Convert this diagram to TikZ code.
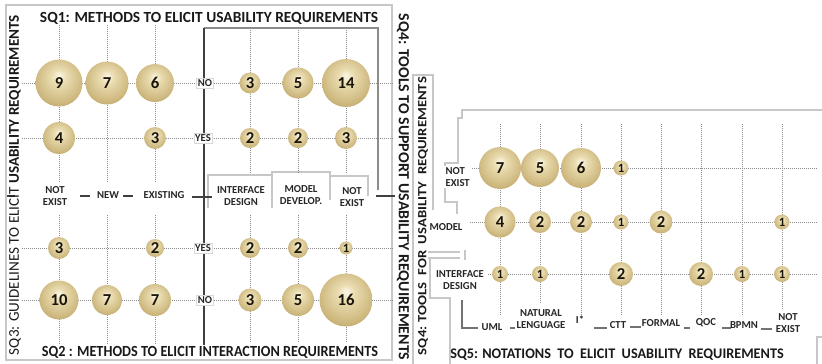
\documentclass[tikz,border=0pt]{standalone}
\usepackage{fontspec}
\setmainfont{Carlito}
\definecolor{cream}{RGB}{252,248,232}
\definecolor{goldA}{RGB}{234,220,176}
\definecolor{goldB}{RGB}{204,182,124}
\definecolor{goldC}{RGB}{150,124,66}
\definecolor{goldD}{RGB}{96,78,38}
\definecolor{numtxt}{RGB}{25,20,8}
\pgfdeclareradialshading{goldball}{\pgfqpoint{0bp}{8bp}}{color(0bp)=(cream); color(8bp)=(goldA); color(26bp)=(goldB); color(42bp)=(goldC); color(52bp)=(goldD)}
\newcommand\ball[5]{\node[bub, minimum size={1.5pt*#4}] (#1) at (#2,#3) {#5};}
\newcommand\sball[5]{\node[bub, minimum size={1.5pt*#4}, font=\bfseries\fontsize{9.5}{10}\selectfont] (#1) at (#2,#3) {#5};}
\newcommand\fitw[3]{\resizebox{#1}{\height}{\fontsize{#2}{#2}\selectfont #3}}
\begin{document}
\begin{tikzpicture}[x=0.75pt,y=-0.75pt,
  bub/.style={circle, shading=goldball, inner sep=0pt, text=numtxt, font=\bfseries\fontsize{12.5}{12.5}\selectfont},
  gridl/.style={black!45, densely dotted, line width=0.5pt},
  frame/.style={black!22, line width=0.8pt},
  axisl/.style={black!75, line width=1.4pt},
  tick/.style={black!55, line width=0.8pt},
  lab/.style={fill=white, inner sep=1pt, font=\bfseries\fontsize{8}{9.2}\selectfont, align=center, text=black!85},
  ttl/.style={inner sep=0pt, text=black!90},
]
\useasboundingbox (0,0) rectangle (822,364);
% ---------------- left chart frames ----------------
\draw[frame] (6,5) rectangle (392,360);
\draw[black!45, line width=0.8pt] (204,28)--(378,28)--(378,190);
\draw[frame] (208,208)--(208,175)--(272,175);
\draw[frame] (272,208)--(272,172)--(330,172)--(330,200);
\draw[frame] (330,176)--(368,176)--(368,196);
% grid
\foreach \x in {59,107,155}{\draw[gridl] (\x,25)--(\x,182) (\x,215)--(\x,345);}
\foreach \x in {250,298,346}{\draw[gridl] (\x,30)--(\x,174) (\x,215)--(\x,343);}
\foreach \y in {83,138,248,300}{\draw[gridl] (22,\y)--(196,\y) (212,\y)--(394,\y);}
% axes
\draw[axisl] (204,28)--(204,345);
\draw[axisl] (7,196)--(15,196) (80,196)--(90,196) (123,196)--(133,196) (192,197)--(212,197) (376,196)--(395,196);
% labels
\node[lab] (lne) at (55,196) {NOT\\EXIST};
\node[lab] (lnew) at (108,195) {NEW};
\node[lab] (lexi) at (164,195) {EXISTING};
\node[lab, fill=none] (lid) at (241,196) {INTERFACE\\DESIGN};
\node[lab, fill=none] (lmd) at (301,195) {MODEL\\DEVELOP.};
\node[lab, fill=none] (lnx) at (352,197) {NOT\\EXIST};
\node[lab, draw=black!15] (no1) at (205,83) {NO};
\node[lab, draw=black!15] (yes1) at (203,138) {YES};
\node[lab, draw=black!15] (yes2) at (203,248) {YES};
\node[lab, draw=black!15] (no2) at (205,300) {NO};
% bubbles
\ball{t9}{59}{83}{23.5}{9}
\ball{t7}{107}{83}{21.5}{7}
\ball{t6}{155}{83}{19}{6}
\ball{t4}{59}{138}{16}{4}
\ball{t3}{155}{138}{11}{3}
\ball{r3}{250}{83}{10.5}{3}
\ball{r5}{298}{83}{15.5}{5}
\ball{r14}{346}{83}{24}{14}
\ball{r2a}{250}{138}{10}{2}
\ball{r2b}{298}{138}{10}{2}
\ball{r3b}{346}{138}{11}{3}
\ball{b3}{59}{248}{11}{3}
\ball{b2}{155}{248}{9}{2}
\ball{b10}{59}{300}{19.5}{10}
\ball{b7a}{107}{300}{15}{7}
\ball{b7b}{155}{300}{16}{7}
\ball{c2a}{250}{248}{10}{2}
\ball{c2b}{298}{248}{10}{2}
\sball{c1}{346}{248}{6.5}{1}
\ball{c3}{250}{300}{11.5}{3}
\ball{c5}{298}{300}{16}{5}
\ball{c16}{346}{300}{26.5}{16}
% titles
\node[ttl] (sq1) at (209,18) {\fitw{253.5pt}{11.6}{\bfseries SQ1: METHODS TO ELICIT USABILITY REQUIREMENTS}};
\node[ttl] (sq2) at (210,352) {\fitw{252pt}{11.6}{\bfseries SQ2 : METHODS TO ELICIT INTERACTION REQUIREMENTS}};
\node[ttl, rotate=90] (sq3) at (15,185) {\fitw{255pt}{11.2}{SQ3: GUIDELINES TO ELICIT {\bfseries USABILITY REQUIREMENTS}}};
\node[ttl, rotate=-90] (sq4a) at (403,187) {\fitw{260pt}{11.6}{\bfseries SQ4: TOOLS TO SUPPORT USABILITY REQUIREMENTS}};
% ---------------- right chart ----------------
\draw[frame] (822,110)--(462,110)--(462,118)--(458,118)--(458,163)--(445,163)--(445,202)--(457,202)--(457,214);
\draw[frame] (428,252)--(460,252) (428,258)--(460,258) (465,250)--(465,260);
\draw[frame] (413,364)--(413,75)--(433,75)--(433,210);
\draw[frame] (430,258)--(430,298)--(450,298)--(450,364);
\draw[frame] (817,364)--(817,337)--(822,337);
\foreach \x in {500,581,621,661,701,742}{\draw[gridl] (\x,124)--(\x,315);}
\draw[gridl] (540,124)--(540,303);
\draw[gridl] (782,124)--(782,310);
\draw[gridl] (472,168)--(817,168);
\draw[gridl] (470,222)--(817,222);
\draw[gridl] (488,274)--(817,274);
\draw[tick] (462,300)--(462,328)--(478,328);
\draw[tick] (510,328)--(515,328) (594,328)--(607,328) (630,327)--(641,327) (684,328)--(690,328) (722,328)--(731,328) (761,329)--(772,329);
\node[lab, align=left, anchor=west] (rne) at (444,177) {NOT\\EXIST};
\node[lab] (rmod) at (446,227) {MODEL};
\node[lab] (rid) at (460,280) {INTERFACE\\DESIGN};
\node[lab, fill=none] (cuml) at (492,327) {UML};
\node[lab, fill=none] (cnl) at (541,319) {NATURAL\\LENGUAGE};
\node[lab, fill=none] (cis) at (580,320) {I*};
\node[lab, fill=none] (cctt) at (618,325) {CTT};
\node[lab, fill=none] (cfor) at (661,323) {FORMAL};
\node[lab, fill=none] (cqoc) at (706,323) {QOC};
\node[lab, fill=none] (cbp) at (744,325) {BPMN};
\node[lab, fill=none] (cne) at (788,323) {NOT\\EXIST};
\ball{n7}{500}{168}{21}{7}
\ball{n5}{540}{168}{19}{5}
\ball{n6}{581}{168}{20}{6}
\sball{n1}{621}{168}{7.5}{1}
\ball{m4}{500}{222}{15.5}{4}
\ball{m2a}{540}{222}{11}{2}
\ball{m2b}{581}{222}{11}{2}
\sball{m1}{621}{222}{7.5}{1}
\ball{m2c}{661}{222}{11.5}{2}
\sball{m1b}{782}{222}{7.5}{1}
\sball{i1a}{500}{274}{8}{1}
\sball{i1b}{540}{274}{8}{1}
\ball{i2a}{621}{274}{12}{2}
\ball{i2b}{701}{274}{12}{2}
\sball{i1c}{742}{274}{8}{1}
\sball{i1d}{782}{274}{8}{1}
\node[ttl, rotate=90] (sq4b) at (423,216) {\fitw{208.5pt}{9.4}{\bfseries SQ4: TOOLS\ \ FOR\ \ USABILITY\ \ REQUIREMENTS}};
\node[ttl] (sq5) at (617,355) {\fitw{250pt}{11}{\bfseries SQ5: NOTATIONS\ \ TO\ \ ELICIT\ \ USABILITY\ \ REQUIREMENTS}};
\end{tikzpicture}
\end{document}
